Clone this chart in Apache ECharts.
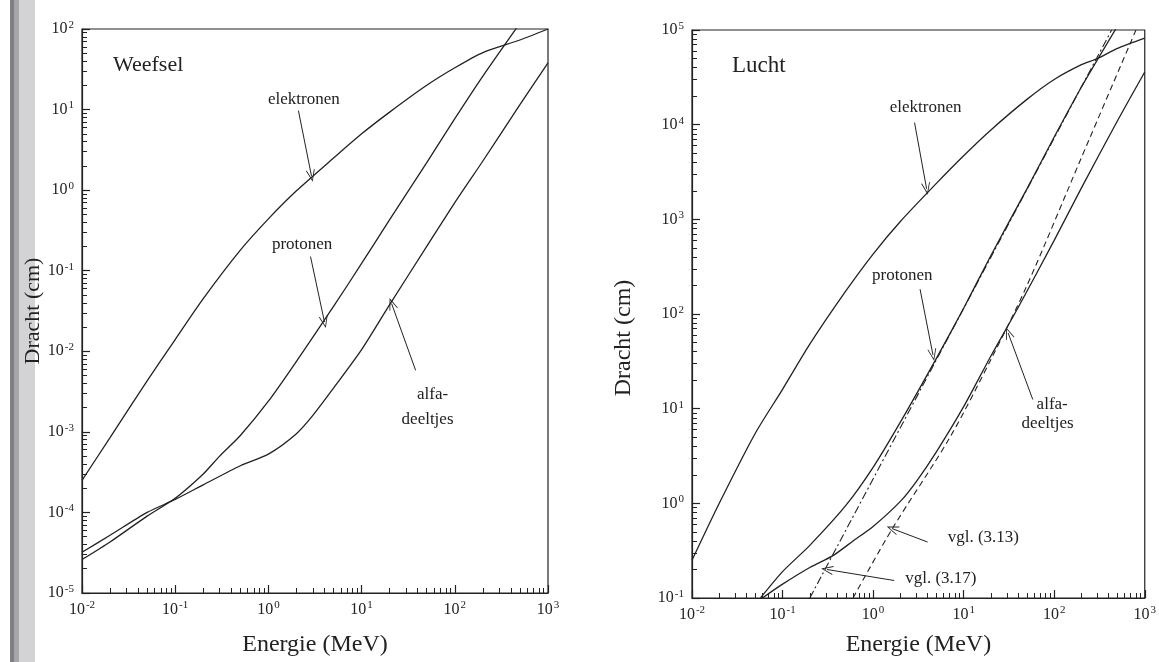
<!DOCTYPE html>
<html>
<head>
<meta charset="utf-8">
<script src="https://cdn.jsdelivr.net/npm/echarts@6/dist/echarts.min.js"></script>
<style>
html,body{margin:0;padding:0;background:#fff;}
#chart{width:1159px;height:662px;}
</style>
</head>
<body>
<div id="chart"></div>
<script>
// ---------- DATA ----------
// Weefsel (tissue): [energy MeV, range cm]
const weefselElektronen = [[0.01,2.5e-4],[0.02,8.5e-4],[0.05,4.3e-3],[0.1,1.4e-2],[0.2,4.5e-2],[0.5,0.18],[1,0.44],[2,0.98],[5,2.5],[10,5.0],[20,9.3],[50,20],[100,33],[200,51],[500,73],[1000,100]];
const weefselProtonen = [[0.01,2.6e-5],[0.02,4.3e-5],[0.05,9.0e-5],[0.1,1.5e-4],[0.2,3.0e-4],[0.3,5.0e-4],[0.5,9.0e-4],[1,2.4e-3],[2,7.5e-3],[5,3.6e-2],[10,0.123],[20,0.43],[50,2.2],[100,7.7],[200,26],[500,118]];
const weefselAlfa = [[0.01,3.2e-5],[0.02,5.2e-5],[0.05,1.0e-4],[0.1,1.45e-4],[0.2,2.2e-4],[0.5,3.8e-4],[1,5.3e-4],[2,9.5e-4],[3,1.6e-3],[5,3.5e-3],[10,1.05e-2],[20,3.8e-2],[50,0.2],[100,0.7],[200,2.3],[500,11.5],[1000,38]];
// Lucht (air)
const luchtElektronen = [[0.01,0.25],[0.02,1.0],[0.05,5.5],[0.1,16],[0.2,48],[0.5,175],[1,430],[2,950],[5,2400],[10,4700],[20,8800],[50,18500],[100,30000],[200,43000],[300,50000],[500,64000],[1000,82000]];
const luchtProtonen = [[0.057,0.1],[0.1,0.19],[0.2,0.36],[0.5,0.95],[1,2.4],[2,7.2],[5,34],[10,115],[20,415],[50,2100],[100,7400],[200,25000],[500,110000]];
const luchtAlfa = [[0.06,0.1],[0.1,0.14],[0.2,0.21],[0.36,0.28],[0.6,0.4],[1,0.57],[2,1.05],[3,1.7],[5,3.5],[10,10.5],[20,36],[40,117],[100,600],[200,2150],[500,11000],[1000,36000]];
const vgl317 = [[0.2,0.1],[431,100000]];   // dash-dot
const vgl313 = [[0.6,0.1],[1.63,0.54],[6.9,4.8],[20,33],[50,200],[200,4500],[800,100000]];   // dashed

// tick labels
const xMajor = [0.01,0.1,1,10,100,1000];
const yMajorWeefsel = [1e-5,1e-4,1e-3,1e-2,1e-1,1,10,100];
const yMajorLucht = [0.1,1,10,100,1000,10000,100000];

// ---------- helpers ----------
function minors(lo, hi){ // 2..9 x 10^d tick positions
  const out=[];
  for(let d=lo; d<hi; d++){ for(let m=2;m<=9;m++){ out.push(+(m*Math.pow(10,d)).toPrecision(3)); } }
  return out;
}
const FONT = "'Liberation Serif','DejaVu Serif',serif";
const INK = '#222';
function powLabel(v){
  const e = Math.round(Math.log10(v));
  return '10{s|' + (e<0 ? '-' + (-e) : e) + '}';
}
const richLab = {
  s:{fontSize:11, fontFamily:FONT, color:INK, verticalAlign:'top', padding:[0,0,8,1]}
};
const arrowSym = 'path://M0,10 L5,0 L10,10 L9,10 L5,2 L1,10 Z';

function mainX(grid, gap, name){
  return {type:'log', logBase:10, gridIndex:grid, min:0.01, max:1000, position:'bottom',
    axisLine:{show:true, lineStyle:{color:INK, width:1.2}},
    axisTick:{show:true, inside:true, length:8, customValues:xMajor, lineStyle:{color:INK, width:1.2}},
    axisLabel:{show:true, customValues:xMajor, margin:7, formatter:powLabel, fontFamily:FONT, fontSize:16, color:INK, rich:richLab},
    splitLine:{show:false}, minorTick:{show:false},
    name:name, nameLocation:'middle', nameGap:gap, nameTextStyle:{fontFamily:FONT, fontSize:24, color:INK}};
}
function minorX(grid){
  return {type:'log', logBase:10, gridIndex:grid, min:0.01, max:1000, position:'bottom',
    axisLine:{show:false}, axisLabel:{show:false}, splitLine:{show:false},
    axisTick:{show:true, inside:true, length:5, customValues:minors(-2,3), lineStyle:{color:INK, width:1}}};
}
function mainY(grid, min, max, majors){
  return {type:'log', logBase:10, gridIndex:grid, min:min, max:max, position:'left',
    axisLine:{show:true, lineStyle:{color:INK, width:1.2}},
    axisTick:{show:true, inside:true, length:8, customValues:majors, lineStyle:{color:INK, width:1.2}},
    axisLabel:{show:true, customValues:majors, margin:8, formatter:powLabel, fontFamily:FONT, fontSize:16, color:INK, rich:richLab},
    splitLine:{show:false}};
}
function minorY(grid, min, max, lo, hi){
  return {type:'log', logBase:10, gridIndex:grid, min:min, max:max, position:'left',
    axisLine:{show:false}, axisLabel:{show:false}, splitLine:{show:false},
    axisTick:{show:true, inside:true, length:5, customValues:minors(lo,hi), lineStyle:{color:INK, width:1}}};
}
function arrow(from, to){
  return [{coord:from}, {coord:to}];
}
function txt(coord, text, align){
  return {coord:coord, value:text, symbol:'circle', symbolSize:1, itemStyle:{color:'rgba(0,0,0,0)'},
    label:{show:true, position:'inside', formatter:text, fontFamily:FONT, fontSize:17, color:INK, align:align||'center'}};
}
function curve(data, xi, yi, extra){
  return Object.assign({type:'line', xAxisIndex:xi, yAxisIndex:yi, data:data, showSymbol:false,
    smooth:0.25, silent:true, animation:false,
    lineStyle:{color:INK, width:1.3}}, extra||{});
}
function annot(arrows, texts){
  return {
    markLine:{silent:true, animation:false, symbol:['none', arrowSym], symbolSize:[9,12],
      label:{show:false}, lineStyle:{color:INK, width:1, type:'solid'}, data:arrows},
    markPoint:{silent:true, animation:false, data:texts}
  };
}

const chart = echarts.init(document.getElementById('chart'), null, {renderer:'canvas'});
const option = {
  backgroundColor:'#fff',
  animation:false,
  grid:[
    {left:82, top:29, width:466, height:564, show:true, borderColor:INK, borderWidth:1.2, backgroundColor:'transparent'},
    {left:692, top:30, width:454, height:574, show:true, borderColor:INK, borderWidth:1.2, backgroundColor:'transparent'}
  ],
  xAxis:[ mainX(0, 40, 'Energie (MeV)'), minorX(0), mainX(1, 35, 'Energie (MeV)'), minorX(1) ],
  yAxis:[ mainY(0, 1e-5, 100, yMajorWeefsel), minorY(0, 1e-5, 100, -5, 2),
          mainY(1, 0.1, 100000, yMajorLucht), minorY(1, 0.1, 100000, -1, 5) ],
  graphic:[
    {type:'rect', left:10, top:0, shape:{width:4, height:662}, style:{fill:'#7f7f85'}, silent:true},
    {type:'rect', left:14, top:0, shape:{width:5, height:662}, style:{fill:'#a5a5aa'}, silent:true},
    {type:'rect', left:19, top:0, shape:{width:16, height:662}, style:{fill:'#d3d3d6'}, silent:true},
    {type:'text', left:113, top:54, style:{text:'Weefsel', fontFamily:FONT, fontSize:22, fill:INK}, silent:true},
    {type:'text', left:732, top:54, style:{text:'Lucht', fontFamily:FONT, fontSize:23, fill:INK}, silent:true},
    {type:'text', x:33, y:311, rotation:Math.PI/2, style:{text:'Dracht (cm)', fontFamily:FONT, fontSize:22, fill:INK, align:'center', verticalAlign:'middle'}, silent:true},
    {type:'text', x:624, y:338, rotation:Math.PI/2, style:{text:'Dracht (cm)', fontFamily:FONT, fontSize:24, fill:INK, align:'center', verticalAlign:'middle'}, silent:true}
  ],
  series:[
    curve(weefselElektronen, 0, 0, annot([arrow([2.1,9.7],[2.9,1.5])],[txt([2.4,13.5],'elektronen')])),
    curve(weefselProtonen, 0, 0, annot([arrow([2.83,0.15],[4.0,0.023])],[txt([2.3,0.21],'protonen')])),
    curve(weefselAlfa, 0, 0, annot([arrow([38,5.8e-3],[21,0.039])],[txt([57.8,2.9e-3],'alfa-'), txt([51,1.43e-3],'deeltjes')])),
    curve(luchtElektronen, 2, 2, annot([arrow([2.87,1.05e4],[3.9,2100])],[txt([3.8,1.5e4],'elektronen')])),
    curve(luchtProtonen, 2, 2, annot([arrow([3.3,183],[4.58,37])],[txt([2.1,257],'protonen')])),
    curve(luchtAlfa, 2, 2, annot([arrow([58,12.5],[31,63])],[txt([95,11],'alfa-'), txt([84.5,7.0],'deeltjes')])),
    curve(vgl313, 2, 2, Object.assign({smooth:0.3, lineStyle:{color:INK, width:1.1, type:[6,4]}},
      annot([arrow([4.0,0.39],[1.63,0.54])],[txt([6.67,0.44],'vgl. (3.13)','left')]))),
    curve(vgl317, 2, 2, Object.assign({smooth:false, lineStyle:{color:INK, width:1.1, type:[8,3,2,3]}},
      annot([arrow([1.71,0.153],[0.31,0.2])],[txt([2.26,0.16],'vgl. (3.17)','left')])))
  ]
};
chart.setOption(option);
</script>
</body>
</html>
